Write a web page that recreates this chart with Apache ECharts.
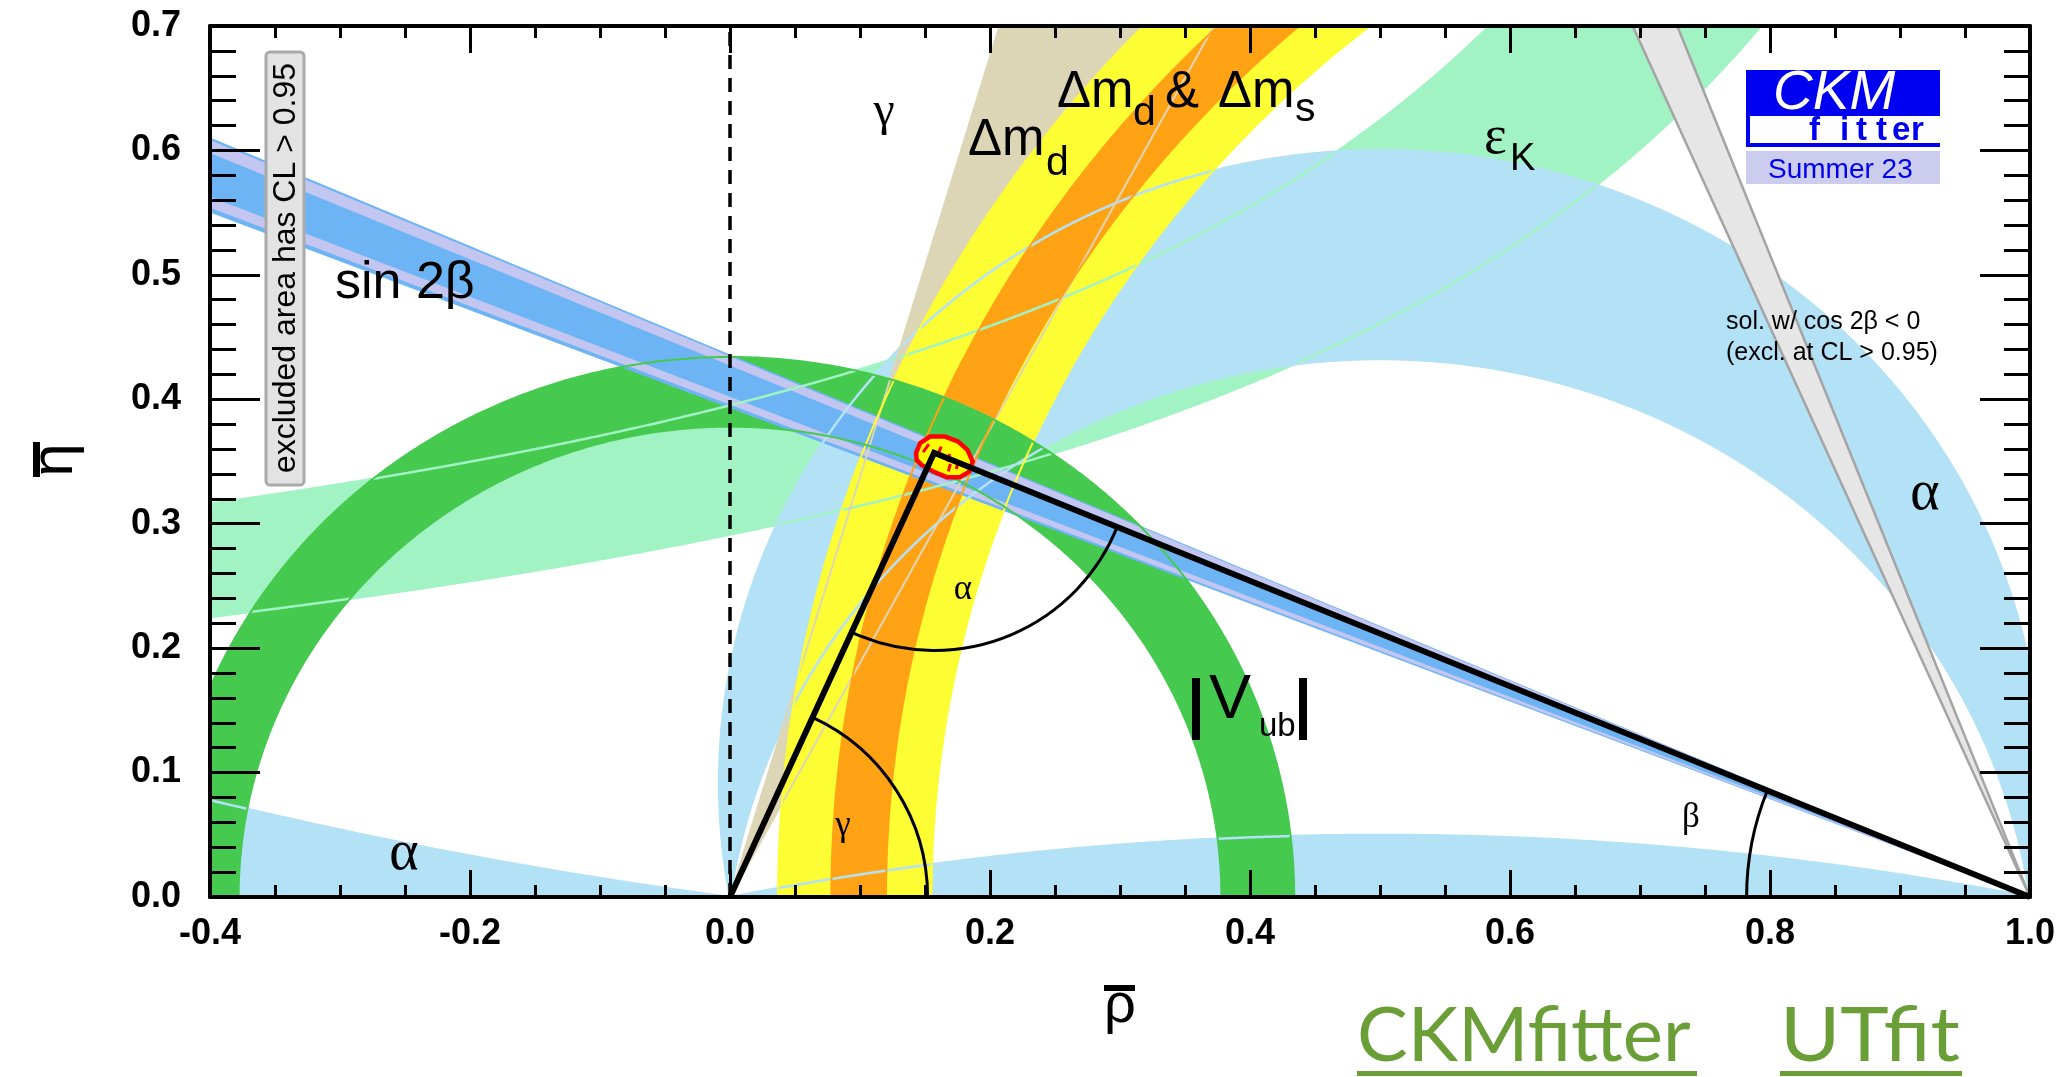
<!DOCTYPE html>
<html>
<head>
<meta charset="utf-8">
<title>CKMfitter Summer 23</title>
<script src="https://cdn.jsdelivr.net/npm/echarts/dist/echarts.min.js"></script>
<style>
html,body{margin:0;padding:0;background:#fff;}
#chart{width:2060px;height:1077px;}
</style>
</head>
<body>
<div id="chart"></div>
<script>
// ================= values =================
const xTickLabels = ['-0.4', '-0.2', '0.0', '0.2', '0.4', '0.6', '0.8', '1.0'];
const yTickLabels = ['0.0', '0.1', '0.2', '0.3', '0.4', '0.5', '0.6', '0.7'];
const rhoRange = [-0.4, 1.0];
const etaRange = [0.0, 0.7];

// unitarity triangle vertices (rho, eta)
const triangle = [[0, 0], [0.157, 0.357], [1, 0]];
// dashed line at rho = 0
const zeroLine = [[0, 0], [0, 0.7]];
// 95% CL contour of the global fit around the apex
const apexContour = [[0.1431, 0.3567], [0.1462, 0.3647], [0.1538, 0.3700], [0.1654, 0.3700],
  [0.1756, 0.3660], [0.1826, 0.3593], [0.1867, 0.3499], [0.1841, 0.3419], [0.1769, 0.3374],
  [0.1667, 0.3374], [0.1564, 0.3419], [0.1474, 0.3473], [0.1436, 0.3513]];
// short red hatch strokes inside the apex contour: [rho1, eta1, rho2, eta2]
const apexHatch = [[0.1485, 0.3575, 0.1530, 0.3640], [0.1600, 0.3560, 0.1625, 0.3620],
  [0.1670, 0.3500, 0.1690, 0.3560], [0.1740, 0.3440, 0.1760, 0.3510], [0.1680, 0.3420, 0.1695, 0.3480]];

// epsilon_K band edges: eta = k / (a - rho) + b   -> [a, k, b]
const epsKUpper = [1.1855, 0.3722, 0.0812];
const epsKLower = [1.358, 0.3956, 0.0];
// alpha solutions (apex angle ranges, degrees)
const alphaRanges = [[79.6, 98.3], [168.6, 180], [0, 7.84]];
// gamma wedge at the origin (degrees)
const gammaRange = [62, 73.5];
// Delta m_d and Delta m_d & Delta m_s rings
const dmCentre = [1.05, 0];
const dmdRadii = [0.895, 1.013];
const dmsRadii = [0.930, 0.972];
// |V_ub| ring
const vubCentre = [0, 0];
const vubRadii = [0.378, 0.434];
// sin 2beta wedge from (1,0): eta = t (1 - rho)
const sin2bVertex = [1, 0];
const sin2bSlopes = [0.393, 0.436];
const sin2bStrips = [[0.3957, 0.4020], [0.4271, 0.4346]];
// cos 2beta < 0 solution
const cos2bSlopes = [2.29, 2.58];

// ================= geometry helpers =================
const D2R = Math.PI / 180;
const FAR = 3;
function circlePts(cx, cy, r) {
  const n = 1440, p = [];
  for (let i = 0; i <= n; i++) { const t = 2 * Math.PI * i / n; p.push([cx + r * Math.cos(t), cy + r * Math.sin(t)]); }
  return p;
}
function alphaArc(deg) {
  if (deg >= 180) return [[1, 0], [0, 0]];
  const n = 3000, a = deg * D2R, h = 0.5 / Math.tan(a), R = 0.5 / Math.sin(a);
  const t0 = a - Math.PI / 2, t1 = 1.5 * Math.PI - a, p = [];
  for (let i = 0; i <= n; i++) { const t = t0 + (t1 - t0) * i / n; p.push([0.5 + R * Math.cos(t), h + R * Math.sin(t)]); }
  return p;
}
function hyperEdge(a, k, b) {
  const r0 = -0.6, r1 = a - k / (0.9 - b), n = 800, p = [];
  for (let i = 0; i <= n; i++) { const r = r0 + (r1 - r0) * i / n; p.push([r, k / (a - r) + b]); }
  return p;
}
const fillFns = {
  ring: v => circlePts(v[0], v[1], v[3]).concat(circlePts(v[0], v[1], v[2]).reverse()),
  alpha: v => v[0] <= 0
    ? alphaArc(v[1]).concat([[-20, 0], [-20, 20], [20, 20], [20, 0]])
    : alphaArc(v[0]).concat(alphaArc(v[1]).reverse()),
  ray: v => [[v[0], v[1]], [v[0] + FAR * Math.cos(v[2] * D2R), v[1] + FAR * Math.sin(v[2] * D2R)],
             [v[0] + FAR * Math.cos(v[3] * D2R), v[1] + FAR * Math.sin(v[3] * D2R)]],
  slope: v => [[v[0], v[1]], [v[0] - FAR, v[1] + v[2] * FAR], [v[0] - FAR, v[1] + v[3] * FAR]],
  hyper: v => hyperEdge(v[0], v[1], v[2]).concat(hyperEdge(v[3], v[4], v[5]).reverse())
};
const edgeFns = {
  ring: v => [circlePts(v[0], v[1], v[2]), circlePts(v[0], v[1], v[3])],
  alpha: v => [v[0] > 0 ? alphaArc(v[0]) : null, v[1] < 180 ? alphaArc(v[1]) : null].filter(Boolean),
  ray: v => [[[v[0], v[1]], [v[0] + FAR * Math.cos(v[2] * D2R), v[1] + FAR * Math.sin(v[2] * D2R)]],
             [[v[0], v[1]], [v[0] + FAR * Math.cos(v[3] * D2R), v[1] + FAR * Math.sin(v[3] * D2R)]]],
  slope: v => [[[v[0], v[1]], [v[0] - FAR, v[1] + v[2] * FAR]], [[v[0], v[1]], [v[0] - FAR, v[1] + v[3] * FAR]]],
  hyper: v => [hyperEdge(v[0], v[1], v[2]), hyperEdge(v[3], v[4], v[5])]
};

// Sutherland-Hodgman polygon clip (pixel space)
function clipPoly(pts, R) {
  const x0 = R.x, x1 = R.x + R.width, y0 = R.y, y1 = R.y + R.height;
  const planes = [
    [p => p[0] >= x0, (a, b) => { const t = (x0 - a[0]) / (b[0] - a[0]); return [x0, a[1] + t * (b[1] - a[1])]; }],
    [p => p[0] <= x1, (a, b) => { const t = (x1 - a[0]) / (b[0] - a[0]); return [x1, a[1] + t * (b[1] - a[1])]; }],
    [p => p[1] >= y0, (a, b) => { const t = (y0 - a[1]) / (b[1] - a[1]); return [a[0] + t * (b[0] - a[0]), y0]; }],
    [p => p[1] <= y1, (a, b) => { const t = (y1 - a[1]) / (b[1] - a[1]); return [a[0] + t * (b[0] - a[0]), y1]; }]
  ];
  let out = pts;
  for (const [inside, inter] of planes) {
    const inp = out; out = [];
    if (!inp.length) break;
    for (let i = 0; i < inp.length; i++) {
      const cur = inp[i], prev = inp[(i + inp.length - 1) % inp.length];
      const ci = inside(cur), pi = inside(prev);
      if (ci) { if (!pi) out.push(inter(prev, cur)); out.push(cur); }
      else if (pi) out.push(inter(prev, cur));
    }
  }
  return out;
}
function clipSeg(a, b, R) {
  let t0 = 0, t1 = 1; const dx = b[0] - a[0], dy = b[1] - a[1];
  const p = [-dx, dx, -dy, dy], q = [a[0] - R.x, R.x + R.width - a[0], a[1] - R.y, R.y + R.height - a[1]];
  for (let i = 0; i < 4; i++) {
    if (p[i] === 0) { if (q[i] < 0) return null; }
    else {
      const t = q[i] / p[i];
      if (p[i] < 0) { if (t > t1) return null; if (t > t0) t0 = t; }
      else { if (t < t0) return null; if (t < t1) t1 = t; }
    }
  }
  return [[a[0] + t0 * dx, a[1] + t0 * dy], [a[0] + t1 * dx, a[1] + t1 * dy]];
}
function clipLine(pts, R) {
  const runs = []; let cur = null;
  for (let i = 0; i < pts.length - 1; i++) {
    const s = clipSeg(pts[i], pts[i + 1], R);
    if (!s) { if (cur) { runs.push(cur); cur = null; } continue; }
    if (cur) {
      const l = cur[cur.length - 1];
      if (Math.abs(l[0] - s[0][0]) < 1e-6 && Math.abs(l[1] - s[0][1]) < 1e-6) { cur.push(s[1]); continue; }
      runs.push(cur);
    }
    cur = [s[0], s[1]];
  }
  if (cur) runs.push(cur);
  return runs;
}
function rowValues(p, api, rows) {
  const n = rows[p.dataIndex].length, v = [];
  for (let i = 0; i < n; i++) v.push(api.value(i));
  return v;
}
function band(id, rows, kind, fill, z) {
  return {
    type: 'custom', id, silent: true, clip: true, animation: false, z, data: rows,
    renderItem(p, api) {
      const v = rowValues(p, api, rows);
      const pts = clipPoly(fillFns[kind](v).map(q => api.coord(q)), p.coordSys);
      return { type: 'polygon', shape: { points: pts }, style: { fill, stroke: 'none' } };
    }
  };
}
function edges(id, rows, kind, stroke, lw, z) {
  return {
    type: 'custom', id, silent: true, clip: true, animation: false, z, data: rows,
    renderItem(p, api) {
      const v = rowValues(p, api, rows), children = [];
      edgeFns[kind](v).forEach(l => {
        clipLine(l.map(q => api.coord(q)), p.coordSys).forEach(run => {
          children.push({ type: 'polyline', shape: { points: run }, style: { stroke, lineWidth: lw, fill: 'none' } });
        });
      });
      return { type: 'group', children };
    }
  };
}

const C = {
  eps: '#a2f3c3', alpha: '#b3e1f6', gamma: '#ddd6b6', dmd: '#fdfd34', dms: '#ffa214',
  vub: '#46c94f', s2b: '#6db4f4', s2bIn: '#c4c6f2', c2b: '#e6e6e6', c2bEdge: '#a4a4a4'
};

const epsRows = [epsKUpper.concat(epsKLower)];
const gammaRows = [triangle[0].concat(gammaRange)];
const dmdRows = [dmCentre.concat(dmdRadii)];
const dmsRows = [dmCentre.concat(dmsRadii)];
const vubRows = [vubCentre.concat(vubRadii)];

const ANGLE_R = [0.152, 0.152, 0.218];

const series = [
  band('epsK', epsRows, 'hyper', C.eps, 2),
  band('alpha', alphaRanges, 'alpha', C.alpha, 2),
  band('gamma', gammaRows, 'ray', C.gamma, 2),
  band('dmd', dmdRows, 'ring', C.dmd, 2),
  band('dms', dmsRows, 'ring', C.dms, 2),
  band('vub', vubRows, 'ring', C.vub, 2),
  band('s2b', [sin2bVertex.concat(sin2bSlopes)], 'slope', C.s2b, 2),
  band('s2bIn', sin2bStrips.map(s => sin2bVertex.concat(s)), 'slope', C.s2bIn, 2),
  edges('epsKEdge', epsRows, 'hyper', C.eps, 2.5, 3),
  edges('alphaEdge', alphaRanges, 'alpha', C.alpha, 2.5, 3),
  edges('gammaEdge', gammaRows, 'ray', C.gamma, 2, 3),
  edges('dmdEdge', dmdRows, 'ring', C.dmd, 2, 3),
  edges('dmsEdge', dmsRows, 'ring', C.dms, 2, 3),
  edges('vubEdge', vubRows, 'ring', C.vub, 2, 3),
  band('c2b', [sin2bVertex.concat(cos2bSlopes)], 'slope', C.c2b, 4),
  edges('c2bEdge', [sin2bVertex.concat(cos2bSlopes)], 'slope', C.c2bEdge, 2.5, 4),
  {
    type: 'line', id: 'zero', data: zeroLine, symbol: 'none', silent: true, animation: false, z: 5,
    lineStyle: { color: '#000', width: 3.5, type: [14, 9] }
  },
  {
    type: 'custom', id: 'apex', silent: true, animation: false, z: 7, data: [apexContour.flat()],
    renderItem(p, api) {
      const v = rowValues(p, api, [apexContour.flat()]), pts = [];
      for (let i = 0; i < v.length; i += 2) pts.push(api.coord([v[i], v[i + 1]]));
      return { type: 'polygon', shape: { points: pts }, style: { fill: '#ffff00', stroke: '#ff0000', lineWidth: 4.5 } };
    }
  },
  {
    type: 'custom', id: 'apexHatch', silent: true, animation: false, z: 7, data: apexHatch,
    renderItem(p, api) {
      const a = api.coord([api.value(0), api.value(1)]), b = api.coord([api.value(2), api.value(3)]);
      return { type: 'line', shape: { x1: a[0], y1: a[1], x2: b[0], y2: b[1] }, style: { stroke: '#ff0000', lineWidth: 3 } };
    }
  },
  {
    type: 'line', id: 'triangle', data: triangle, symbol: 'none', silent: true, animation: false, z: 8,
    lineStyle: { color: '#000', width: 6, join: 'miter' }
  },
  {
    type: 'custom', id: 'angles', silent: true, animation: false, z: 8, data: triangle,
    renderItem(p, api) {
      const i = p.dataIndex, n = triangle.length;
      const c = api.coord([api.value(0), api.value(1)]);
      const a = api.coord(triangle[(i + n - 1) % n]), b = api.coord(triangle[(i + 1) % n]);
      let s = Math.atan2(a[1] - c[1], a[0] - c[0]), e = Math.atan2(b[1] - c[1], b[0] - c[0]);
      if (e < s) { const t = s; s = e; e = t; }
      if (e - s > Math.PI) { const t = s; s = e; e = t + 2 * Math.PI; }
      const r = api.size([ANGLE_R[i], 0])[0];
      return { type: 'arc', shape: { cx: c[0], cy: c[1], r, startAngle: s, endAngle: e, clockwise: true },
               style: { stroke: '#000', lineWidth: 3, fill: 'none' } };
    }
  }
];

// ================= axes =================
const SANS = '"Liberation Sans", Arial, Helvetica, sans-serif';
const SERIF = '"Liberation Serif", "Times New Roman", serif';
function xAx(pos, labels) {
  return {
    type: 'value', position: pos, min: rhoRange[0], max: rhoRange[1], interval: 0.2, z: 10,
    axisLine: { show: true, onZero: false, lineStyle: { color: '#000', width: 4 } },
    axisTick: { show: true, inside: true, length: 27, lineStyle: { color: '#000', width: 3 } },
    minorTick: { show: true, splitNumber: 4, length: 12, lineStyle: { color: '#000', width: 3 } },
    splitLine: { show: false }, minorSplitLine: { show: false },
    axisLabel: {
      show: labels, margin: 37, verticalAlign: 'middle', showMinLabel: true, showMaxLabel: true,
      fontFamily: SANS, fontWeight: 'bold', fontSize: 36, color: '#000',
      formatter: v => xTickLabels[Math.round((v - rhoRange[0]) / 0.2)]
    }
  };
}
function yAx(pos, labels) {
  return {
    type: 'value', position: pos, min: etaRange[0], max: etaRange[1], interval: 0.1, z: 10,
    axisLine: { show: true, onZero: false, lineStyle: { color: '#000', width: 4 } },
    axisTick: { show: true, inside: true, length: 50, lineStyle: { color: '#000', width: 3 } },
    minorTick: { show: true, splitNumber: 5, length: 26, lineStyle: { color: '#000', width: 3 } },
    splitLine: { show: false }, minorSplitLine: { show: false },
    axisLabel: {
      show: labels, margin: 29, showMinLabel: true, showMaxLabel: true,
      fontFamily: SANS, fontWeight: 'bold', fontSize: 36, color: '#000',
      formatter: v => yTickLabels[Math.round((v - etaRange[0]) / 0.1)]
    }
  };
}

// ================= annotations =================
function txt(text, x, base, size, o) {
  o = o || {};
  const k = o.serif ? 0.3375 : 0.3465;
  const fam = o.family || (o.serif ? SERIF : SANS);
  const el = {
    type: 'text', z: 50, silent: true, x, y: base - k * size,
    style: {
      text, fill: o.color || '#000',
      font: (o.italic ? 'italic ' : '') + (o.bold ? 'bold ' : '') + size + 'px ' + fam,
      textAlign: o.align || 'left', align: o.align || 'left',
      textVerticalAlign: 'middle', verticalAlign: 'middle'
    }
  };
  if (o.sx) el.scaleX = o.sx;
  return el;
}
function rct(x, y, w, h, fill, o) {
  o = o || {};
  return { type: 'rect', z: o.z || 49, silent: true, shape: { x, y, width: w, height: h, r: o.r || 0 },
           style: { fill, stroke: o.stroke || 'none', lineWidth: o.lw || 0 } };
}
const LOGO_BLUE = '#0000f0';
const GREEN = '#6a9f38';
const graphics = [
  // band labels
  txt('sin 2β', 335, 302, 52),
  txt('γ', 884, 129, 48, { serif: true, align: 'center' }),
  txt('Δm', 968, 159, 51), txt('d', 1046, 178, 41),
  txt('Δm', 1057, 111, 51), txt('d', 1133, 128, 41), txt('&', 1165, 111, 51),
  txt('Δm', 1218, 111, 51), txt('s', 1295, 124, 41),
  txt('ε', 1484, 157, 54, { serif: true }), txt('K', 1510, 173, 38),
  rct(1192, 678, 8, 62, '#000', { z: 50 }), txt('V', 1209, 722, 63), txt('ub', 1259, 738, 33),
  rct(1299, 678, 8, 62, '#000', { z: 50 }),
  txt('α', 1925, 513, 56, { serif: true, align: 'center' }),
  txt('α', 404, 873, 56, { serif: true, align: 'center' }),
  // angle labels
  txt('α', 963, 602, 35, { serif: true, align: 'center' }),
  txt('γ', 843, 838, 35, { serif: true, align: 'center' }),
  txt('β', 1691, 830, 35, { serif: true, align: 'center' }),
  // cos 2beta note
  txt('sol. w/ cos 2β < 0', 1726, 331, 25),
  txt('(excl. at CL > 0.95)', 1726, 362, 25),
  // CKMfitter logo
  rct(1746, 70, 194, 46, LOGO_BLUE),
  txt('CKM', 1773, 113, 55, { italic: true, color: '#ffffff' }),
  rct(1746, 112, 4, 35, LOGO_BLUE), rct(1746, 143, 194, 4, LOGO_BLUE),
  txt('f', 1809, 142, 33, { bold: true, color: LOGO_BLUE }),
  txt('i', 1840, 142, 33, { bold: true, color: LOGO_BLUE }),
  txt('t', 1856, 142, 33, { bold: true, color: LOGO_BLUE }),
  txt('t', 1876, 142, 33, { bold: true, color: LOGO_BLUE }),
  txt('e', 1892, 142, 33, { bold: true, color: LOGO_BLUE }),
  txt('r', 1911, 142, 33, { bold: true, color: LOGO_BLUE }),
  rct(1746, 151, 194, 33, '#ccccee'),
  txt('Summer 23', 1768, 180, 28, { color: LOGO_BLUE }),
  // excluded-area box
  rct(266, 52, 38, 433, '#e3e3e3', { stroke: '#a9a9a9', lw: 3, r: 4 }),
  {
    type: 'text', z: 50, silent: true, x: 286, y: 268, rotation: Math.PI / 2,
    style: { text: 'excluded area has CL > 0.95', fill: '#000', font: '32px ' + SANS,
             textAlign: 'center', align: 'center', textVerticalAlign: 'middle', verticalAlign: 'middle' }
  },
  // axis titles
  txt('ρ', 1120, 1026, 56, { align: 'center' }), rct(1104, 985, 31, 6, '#000', { z: 50 }),
  {
    type: 'text', z: 50, silent: true, x: 55, y: 460, rotation: Math.PI / 2,
    style: { text: 'η', fill: '#000', font: '60px ' + SANS,
             textAlign: 'center', align: 'center', textVerticalAlign: 'middle', verticalAlign: 'middle' }
  },
  rct(33, 442, 7, 35, '#000', { z: 50 }),
  // bottom links
  txt('CKMfitter', 1357, 1063, 76, { family: 'Lato, "Open Sans", sans-serif', color: GREEN }),
  rct(1357, 1071, 340, 5, GREEN),
  txt('UTfit', 1780, 1063, 76, { family: 'Lato, "Open Sans", sans-serif', color: GREEN, sx: 1.08 }),
  rct(1780, 1071, 182, 5, GREEN)
];

const chart = echarts.init(document.getElementById('chart'), null, { renderer: 'canvas', width: 2060, height: 1077 });
chart.setOption({
  animation: false,
  backgroundColor: '#ffffff',
  grid: { left: 210, right: 30, top: 26, bottom: 180, containLabel: false, outerBoundsMode: 'none' },
  xAxis: [xAx('bottom', true), xAx('top', false)],
  yAxis: [yAx('left', true), yAx('right', false)],
  series: series.map(s => Object.assign({ xAxisIndex: 0, yAxisIndex: 0 }, s)),
  graphic: { elements: graphics }
});
</script>
</body>
</html>
